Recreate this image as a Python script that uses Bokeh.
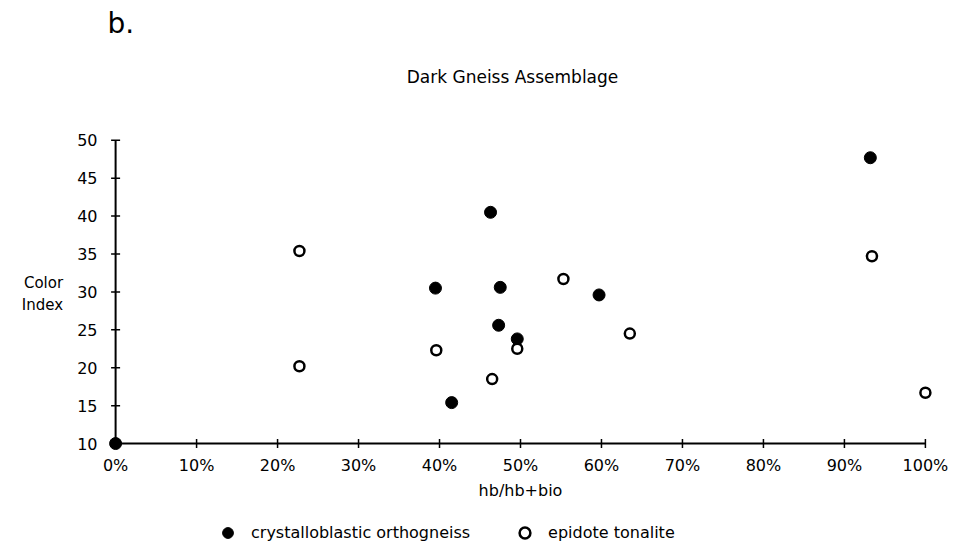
import math
from bokeh.plotting import figure
from bokeh.layouts import column
from bokeh.models import Range1d, Legend, LegendItem, FixedTicker, ColumnDataSource, Label
from bokeh.embed import file_html
from bokeh.resources import INLINE

# --- data ---
cryst_x = [0, 41.5, 39.5, 46.3, 47.5, 47.3, 49.6, 59.7, 93.2]
cryst_y = [10, 15.4, 30.5, 40.5, 30.6, 25.6, 23.8, 29.6, 47.7]
epi_x = [22.7, 22.7, 39.6, 46.5, 49.6, 55.3, 63.5, 93.4, 100]
epi_y = [35.4, 20.2, 22.3, 18.5, 22.5, 31.7, 24.5, 34.7, 16.7]
x_ticks = [0, 10, 20, 30, 40, 50, 60, 70, 80, 90, 100]
x_tick_labels = ["0%", "10%", "20%", "30%", "40%", "50%", "60%", "70%", "80%", "90%", "100%"]
y_ticks = [10, 15, 20, 25, 30, 35, 40, 45, 50]
y_tick_labels = ["10", "15", "20", "25", "30", "35", "40", "45", "50"]
series_names = ["crystalloblastic orthogneiss", "epidote tonalite"]
panel_letter = "b."
chart_title = "Dark Gneiss Assemblage"
x_label = "hb/hb+bio"
y_label = "Color\nIndex"

FONT = "DejaVu Sans"
W = 960
LEFT, RIGHT = 107, 27

def strip(height):
    f = figure(width=W, height=height, output_backend="svg", toolbar_location=None,
               x_axis_type=None, y_axis_type=None, x_range=Range1d(0, 1), y_range=Range1d(0, 1),
               min_border_left=LEFT, min_border_right=RIGHT, min_border_top=0,
               min_border_bottom=0)
    f.outline_line_color = None
    f.grid.visible = False
    return f

# --- heading strip: panel letter and title ---
r = strip(100)
r.add_layout(Label(x=0, y=77, x_units="screen", y_units="screen", text=panel_letter,
                   text_font=FONT, text_font_size="28px", text_color="black",
                   text_align="left", text_baseline="alphabetic"))
r.add_layout(Label(x=405, y=24, x_units="screen", y_units="screen", text=chart_title,
                   text_font=FONT, text_font_size="17px", text_color="black",
                   text_align="center", text_baseline="alphabetic"))

# --- main chart ---
p = figure(width=W, height=417, output_backend="svg", toolbar_location=None,
           x_range=Range1d(-1, 101), y_range=Range1d(8.95, 50.5),
           min_border_left=LEFT, min_border_right=RIGHT, min_border_top=36,
           min_border_bottom=66)
p.outline_line_color = None
p.grid.visible = False
p.background_fill_color = "white"
p.border_fill_color = "white"

for ax in (p.xaxis[0], p.yaxis[0]):
    ax.axis_line_color = None
    ax.major_tick_line_color = None
    ax.minor_tick_line_color = None
    ax.major_tick_in = 0
    ax.major_tick_out = 0
    ax.major_label_text_font = FONT
    ax.major_label_text_font_size = "16px"
    ax.major_label_text_color = "black"
    ax.axis_label_text_font = FONT
    ax.axis_label_text_font_style = "normal"
    ax.axis_label_text_color = "black"

p.xaxis.ticker = FixedTicker(ticks=x_ticks)
p.xaxis.major_label_overrides = dict(zip(x_ticks, x_tick_labels))
p.xaxis.major_label_standoff = 4
p.xaxis.axis_label = x_label
p.xaxis.axis_label_text_font_size = "16px"
p.xaxis.axis_label_standoff = 3

p.yaxis.ticker = FixedTicker(ticks=y_ticks)
p.yaxis.major_label_overrides = dict(zip(y_ticks, y_tick_labels))
p.yaxis.major_label_standoff = 10
p.yaxis.axis_label = y_label
p.yaxis.axis_label_orientation = "horizontal"
p.yaxis.axis_label_text_font_size = "15px"
p.yaxis.axis_label_standoff = 11

# axis lines and crossing ticks through the data scales
p.segment(x0=[x_ticks[0], x_ticks[0]], y0=[y_ticks[0], y_ticks[0]],
          x1=[x_ticks[-1], x_ticks[0]], y1=[y_ticks[0], y_ticks[-1]],
          line_color="black", line_width=2)
p.scatter(x=x_ticks, y=[y_ticks[0]] * len(x_ticks), marker="dash", angle=math.pi / 2,
          size=9, line_color="black", line_width=1.5)
p.scatter(x=[x_ticks[0]] * len(y_ticks), y=y_ticks, marker="dash",
          size=9, line_color="black", line_width=1.5)

src1 = ColumnDataSource(dict(x=cryst_x, y=cryst_y))
src2 = ColumnDataSource(dict(x=epi_x, y=epi_y))
p.scatter("x", "y", source=src1, marker="circle", size=12,
          fill_color="black", line_color="black")
p.scatter("x", "y", source=src2, marker="circle", size=10,
          fill_color="white", line_color="black", line_width=2.5)

# --- legend strip (its series lie outside this strip's view) ---
q = strip(30)
k1 = q.scatter("x", "y", source=src1, marker="circle", size=12,
               fill_color="black", line_color="black")
k2 = q.scatter("x", "y", source=src2, marker="circle", size=10, fill_color="white",
               line_color="black", line_width=2.5)
lg = Legend(items=[LegendItem(label=series_names[0], renderers=[k1]),
                   LegendItem(label=series_names[1], renderers=[k2])],
            location=(107, 1), orientation="horizontal",
            padding=0, margin=0, spacing=41, border_line_color=None,
            background_fill_alpha=0, glyph_width=27, glyph_height=27,
            label_standoff=10, label_text_font=FONT,
            label_text_font_size="16px", label_text_color="black")
q.add_layout(lg, "center")

page = column(r, p, q, spacing=0)
open("out.html", "w").write(file_html(page, INLINE))
